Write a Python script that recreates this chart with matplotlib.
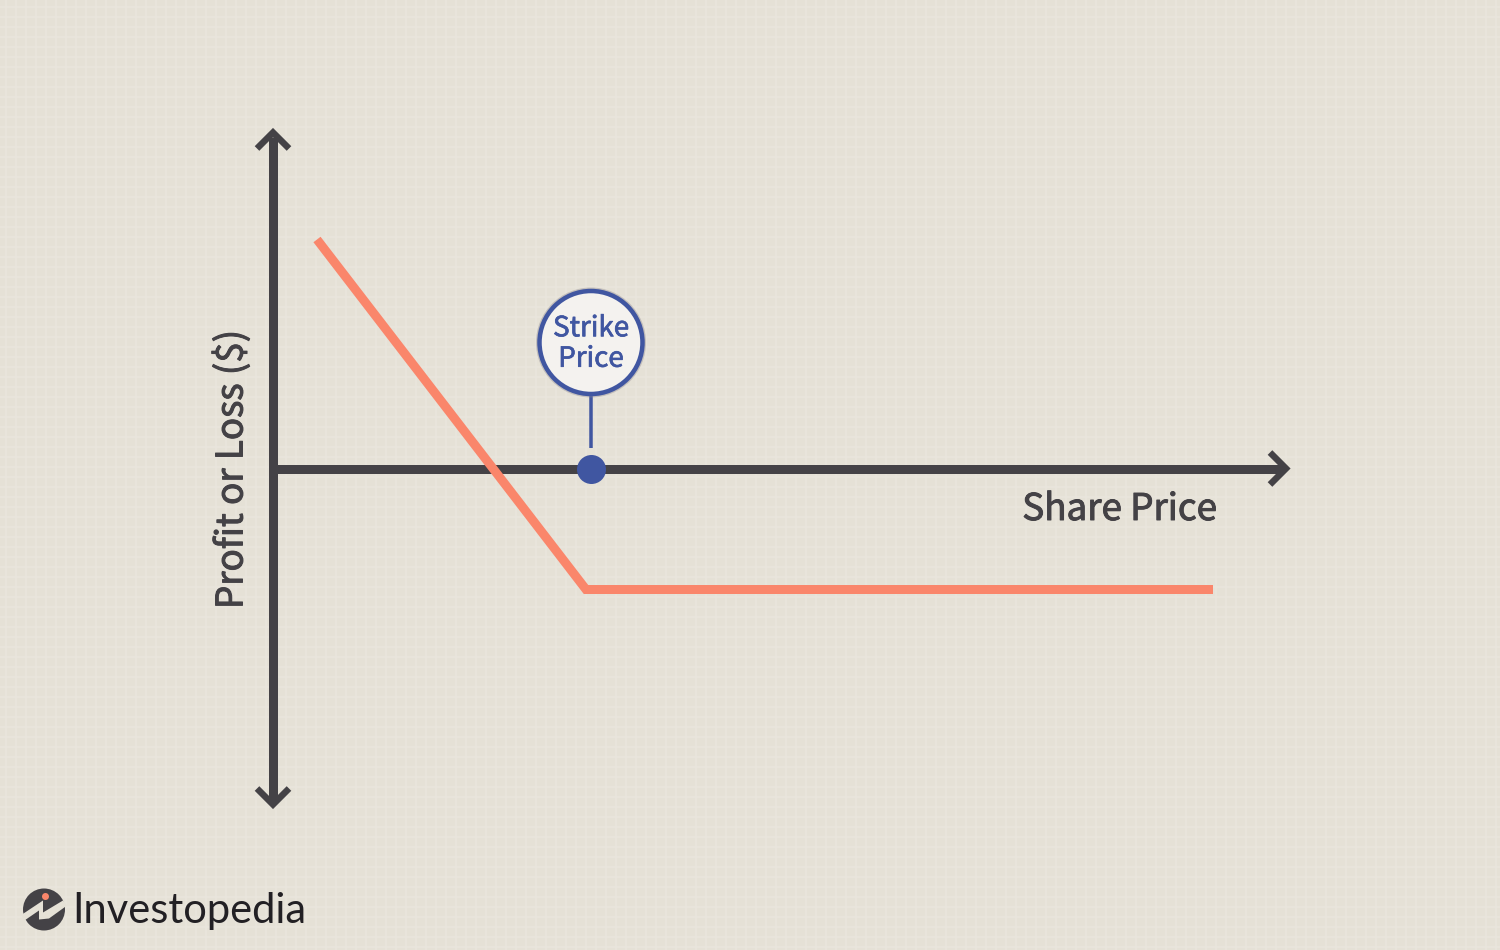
#!/usr/bin/env python3
"""Short put payoff diagram"""

import matplotlib
matplotlib.use('Agg')
import matplotlib.pyplot as plt
import matplotlib.patheffects as pe
from matplotlib.patches import Circle, Polygon

# 数据 (origin of the two axes is the zero point)
share_price = [44, 313, 940]
profit_loss = [229, -121, -121]
strike_price = 318
x_axis_end = 1013
y_axis_top = 336
y_axis_bottom = -336

x_label = 'Share Price'
y_label = 'Profit or Loss ($)'
strike_label = 'Strike\nPrice'
brand = 'Investopedia'

BG = '#E5E1D6'
GRID = '#E9E6DD'
DARK = '#444246'
CORAL = '#FA866B'
BLUE = '#4056A1'
PX = 0.72  # 1 pixel in points at dpi 100

plt.rcParams['font.family'] = ['Noto Sans CJK SC', 'DejaVu Sans']


def heavier(color, width=0.7):
    # only Regular and Bold are installed, thicken Regular a little
    return [pe.withStroke(linewidth=width, foreground=color)]


fig = plt.figure(figsize=(15, 9.5), dpi=100, facecolor=BG)
ax = fig.add_axes([0, 0, 1, 1])
ax.set_xlim(-273, 1227)
ax.set_ylim(-481.5, 468.5)
ax.axis('off')

# faint paper grid
for gx in range(-273, 1227, 10):
    ax.axvline(gx + 6, color=GRID, lw=1.5 * PX, zorder=0)
for gy in range(-482, 468, 10):
    ax.axhline(gy + 4, color=GRID, lw=1.5 * PX, zorder=0)

# axes
ax.plot([0, 0], [y_axis_bottom + 4, y_axis_top - 4], color=DARK, lw=9 * PX, zorder=2, solid_capstyle='butt')
ax.plot([0, x_axis_end - 4], [0, 0], color=DARK, lw=9 * PX, zorder=2, solid_capstyle='butt')

# arrow heads
ah = 16
head = dict(color=DARK, lw=6.5 * PX, zorder=2, solid_joinstyle='miter', solid_capstyle='butt')
ax.plot([-ah, 0, ah], [y_axis_top - ah, y_axis_top, y_axis_top - ah], **head)
ax.plot([-ah, 0, ah], [y_axis_bottom + ah, y_axis_bottom, y_axis_bottom + ah], **head)
ax.plot([x_axis_end - ah, x_axis_end, x_axis_end - ah], [ah, 0, -ah], **head)

# payoff line
ax.plot(share_price, profit_loss, color=CORAL, lw=9 * PX, zorder=3,
        solid_joinstyle='miter', solid_capstyle='butt')

# strike marker
ax.plot([strike_price, strike_price], [21, 80], color=BLUE, lw=3.5 * PX, zorder=4, solid_capstyle='butt')
ax.plot([strike_price], [0], 'o', color=BLUE, ms=29 * PX, mew=0, zorder=5)
ax.add_patch(Circle((strike_price, 126), 55, fc='#8F8A92', ec='none', alpha=0.4, zorder=4))
ax.add_patch(Circle((strike_price, 126), 51.5, fc='#F4F2EF', ec=BLUE, lw=4.5 * PX, zorder=5))
ax.text(strike_price, 125, strike_label, color=BLUE, fontsize=20, ha='center',
        va='center', linespacing=1.02, zorder=6, path_effects=heavier(BLUE, 0.5))

# labels
ax.text(944, -41, x_label, color=DARK, fontsize=26.5, ha='right', va='center', zorder=6,
        path_effects=heavier(DARK))
ax.text(-41, -1, y_label, color=DARK, fontsize=26.5, rotation=90,
        ha='center', va='center', zorder=6, path_effects=heavier(DARK))

# logo
ax.add_patch(Circle((-229, -441), 21, fc=DARK, ec='none', zorder=6))
ax.add_patch(Polygon([(-251, -446), (-230, -432), (-230, -444), (-210, -432), (-206, -437),
                      (-224, -450), (-234, -451), (-234, -442), (-250, -453)], fc=BG, ec='none', zorder=7))
ax.plot([-228], [-427], 'o', color=CORAL, ms=7 * PX, mew=0, zorder=8)
ax.text(-201, -443, brand, color='#222024', fontsize=30, family=['Lato', 'DejaVu Sans'], ha='left', va='center', zorder=6)

plt.savefig('out.png', dpi=100, facecolor=BG)
